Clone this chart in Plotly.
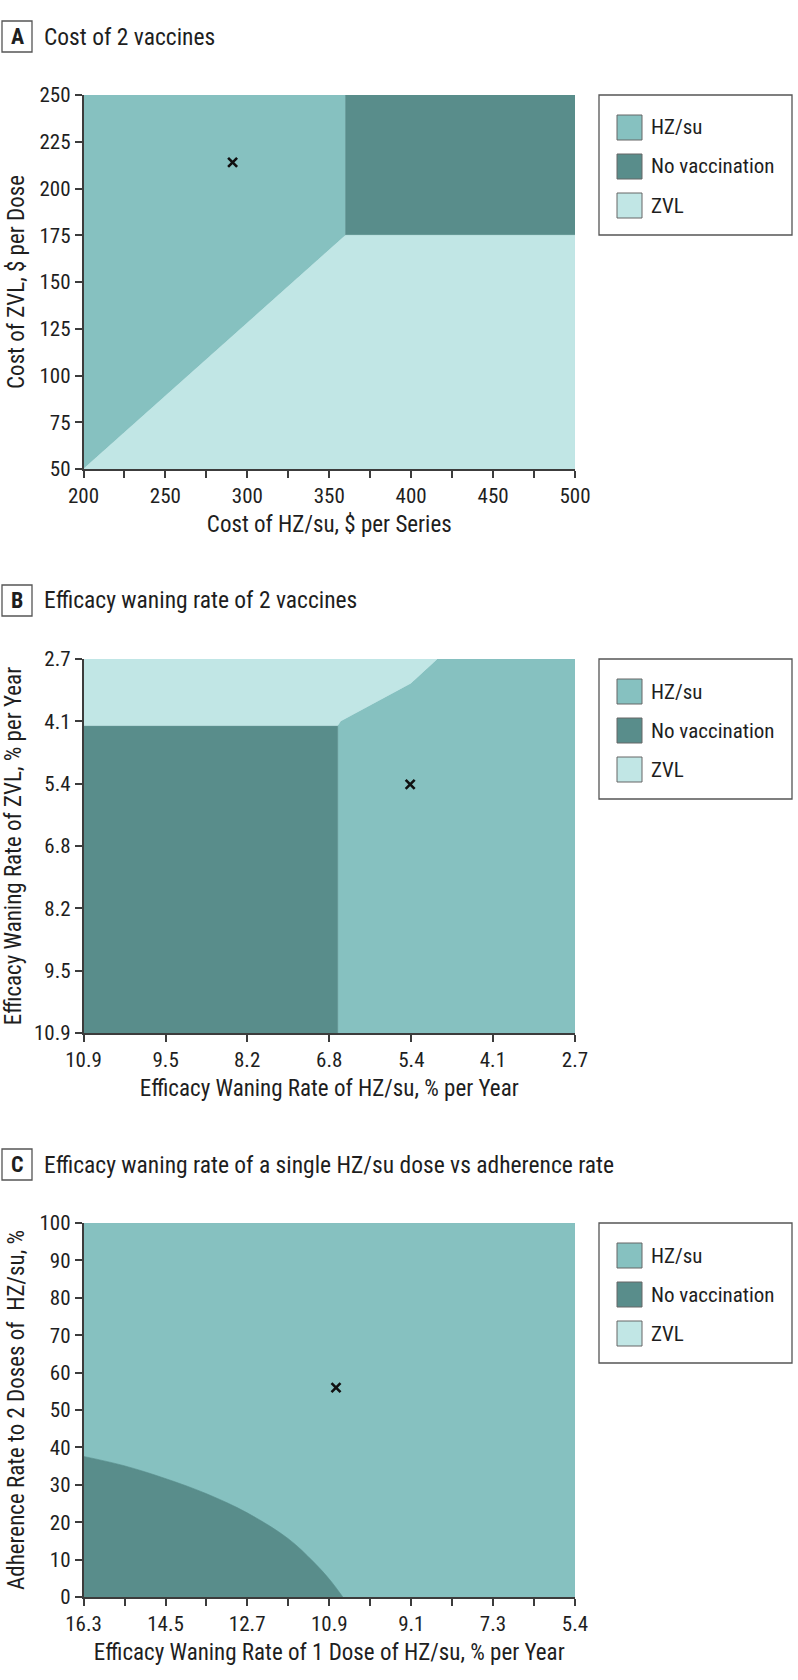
import plotly.graph_objects as go

W, H = 798, 1680
FONT = "Roboto Condensed, Liberation Sans Narrow, DejaVu Sans Condensed, sans-serif"
TXT = "#1e1e1e"
AX = "#3c3c3c"

# ---------------- data ----------------
categories = ["HZ/su", "No vaccination", "ZVL"]
cat_colors = ["#86c1c0", "#598d8b", "#c1e6e5"]

# Panel A: cost of 2 vaccines
a_title = "Cost of 2 vaccines"
a_xlabel = "Cost of HZ/su, $ per Series"
a_ylabel = "Cost of ZVL, $ per Dose"
a_hz_x = [200, 360, 360, 200]
a_hz_y = [50, 175, 250, 250]
a_nv_x = [360, 500, 500, 360]
a_nv_y = [175, 175, 250, 250]
a_zvl_x = [200, 500, 500, 360]
a_zvl_y = [50, 50, 175, 175]
a_base_x = [291]
a_base_y = [214]
a_xtickvals = [200, 225, 250, 275, 300, 325, 350, 375, 400, 425, 450, 475, 500]
a_xticktext = ["200", "", "250", "", "300", "", "350", "", "400", "", "450", "", "500"]
a_ytickvals = [50, 75, 100, 125, 150, 175, 200, 225, 250]
a_yticktext = ["50", "75", "100", "125", "150", "175", "200", "225", "250"]

# Panel B: efficacy waning rate of 2 vaccines
b_title = "Efficacy waning rate of 2 vaccines"
b_xlabel = "Efficacy Waning Rate of HZ/su, % per Year"
b_ylabel = "Efficacy Waning Rate of ZVL, % per Year"
b_hz_x = [5.0, 2.7, 2.7, 6.66, 6.66, 6.61, 5.44]
b_hz_y = [2.7, 2.7, 10.9, 10.9, 4.16, 4.06, 3.23]
b_nv_x = [10.9, 6.66, 6.66, 10.9]
b_nv_y = [4.16, 4.16, 10.9, 10.9]
b_zvl_x = [10.9, 5.0, 5.44, 6.61, 6.66, 10.9]
b_zvl_y = [2.7, 2.7, 3.23, 4.06, 4.16, 4.16]
b_base_x = [5.45]
b_base_y = [5.45]
b_tickvals = [10.9, 9.53, 8.17, 6.8, 5.43, 4.07, 2.7]
b_ticktext = ["10.9", "9.5", "8.2", "6.8", "5.4", "4.1", "2.7"]

# Panel C: single-dose waning vs adherence
c_title = "Efficacy waning rate of a single HZ/su dose vs adherence rate"
c_xlabel = "Efficacy Waning Rate of 1 Dose of HZ/su, % per Year"
c_ylabel = "Adherence Rate to 2 Doses of  HZ/su, %"
c_curve_x = [16.3, 15.40, 14.49, 13.57, 12.67, 11.76, 11.20, 10.83, 10.55]
c_curve_y = [37.6, 35.1, 31.7, 27.6, 22.5, 15.6, 9.4, 4.5, 0.0]
c_xmin, c_xmax = 5.4, 16.3
c_ymin, c_ymax = 0, 100
c_base_x = [10.7]
c_base_y = [56]
c_xtickvals = [16.3, 15.39, 14.48, 13.58, 12.67, 11.76, 10.85, 9.94, 9.03, 8.13, 7.22, 6.31, 5.4]
c_xticktext = ["16.3", "", "14.5", "", "12.7", "", "10.9", "", "9.1", "", "7.3", "", "5.4"]
c_ytickvals = [0, 10, 20, 30, 40, 50, 60, 70, 80, 90, 100]
c_yticktext = ["0", "10", "20", "30", "40", "50", "60", "70", "80", "90", "100"]

# ---------------- layout helpers ----------------
def px(x):
    return x / W

def py(y):
    return 1 - y / H

PLOT_L, PLOT_R = 83.5, 575
panel_tops = [95, 659, 1223]
PLOT_H = 374

fig = go.Figure()

def region(xs, ys, color, xa, ya, name):
    fig.add_trace(go.Scatter(
        x=xs + [xs[0]], y=ys + [ys[0]], fill="toself", fillcolor=color,
        mode="lines", line=dict(color=color, width=0.6), name=name,
        showlegend=False, hoverinfo="name", xaxis=xa, yaxis=ya))

def base(xs, ys, xa, ya):
    fig.add_trace(go.Scatter(
        x=xs, y=ys, mode="markers", showlegend=False, xaxis=xa, yaxis=ya,
        marker=dict(symbol="x-thin", size=9, color="#111",
                    line=dict(color="#111", width=2.6)),
        hoverinfo="skip"))

# Panel A
region(a_hz_x, a_hz_y, cat_colors[0], "x", "y", categories[0])
region(a_nv_x, a_nv_y, cat_colors[1], "x", "y", categories[1])
region(a_zvl_x, a_zvl_y, cat_colors[2], "x", "y", categories[2])
base(a_base_x, a_base_y, "x", "y")

# Panel B
region(b_hz_x, b_hz_y, cat_colors[0], "x2", "y2", categories[0])
region(b_nv_x, b_nv_y, cat_colors[1], "x2", "y2", categories[1])
region(b_zvl_x, b_zvl_y, cat_colors[2], "x2", "y2", categories[2])
base(b_base_x, b_base_y, "x2", "y2")

# Panel C: HZ/su fills the whole domain, No vaccination sits below the curve
region([c_xmax, c_xmin, c_xmin, c_xmax], [c_ymin, c_ymin, c_ymax, c_ymax],
       cat_colors[0], "x3", "y3", categories[0])
fig.add_trace(go.Scatter(
    x=c_curve_x, y=c_curve_y, fill="tozeroy", fillcolor=cat_colors[1],
    mode="lines", line=dict(color=cat_colors[1], width=0.6, shape="spline", smoothing=1),
    name=categories[1], showlegend=False, hoverinfo="name", xaxis="x3", yaxis="y3"))
base(c_base_x, c_base_y, "x3", "y3")

def axis_common(rng, tv, tt, title, anchor, standoff):
    return dict(range=rng, anchor=anchor, automargin=False,
                tickmode="array", tickvals=tv, ticktext=tt,
                showline=True, linecolor=AX, linewidth=1.5, ticks="outside",
                ticklen=7, tickwidth=1.5, tickcolor=AX, showgrid=False,
                zeroline=False, tickfont=dict(family=FONT, size=21, color=TXT),
                title=dict(text=title, font=dict(family=FONT, size=23, color=TXT),
                           standoff=standoff),
                fixedrange=True)

def xaxis(top, rng, tv, tt, title, anchor):
    d = axis_common(rng, tv, tt, title, anchor, 9)
    d["domain"] = [px(PLOT_L), px(PLOT_R)]
    return d

def yaxis(top, rng, tv, tt, title, anchor):
    d = axis_common(rng, tv, tt, title, anchor, 8)
    d["domain"] = [py(top + PLOT_H), py(top)]
    return d

fig.update_layout(
    xaxis=xaxis(panel_tops[0], [200, 500], a_xtickvals, a_xticktext, a_xlabel, "y"),
    yaxis=yaxis(panel_tops[0], [50, 250], a_ytickvals, a_yticktext, a_ylabel, "x"),
    xaxis2=xaxis(panel_tops[1], [10.9, 2.7], b_tickvals, b_ticktext, b_xlabel, "y2"),
    yaxis2=yaxis(panel_tops[1], [10.9, 2.7], b_tickvals, b_ticktext, b_ylabel, "x2"),
    xaxis3=xaxis(panel_tops[2], [c_xmax, c_xmin], c_xtickvals, c_xticktext, c_xlabel, "y3"),
    yaxis3=yaxis(panel_tops[2], [c_ymin, c_ymax], c_ytickvals, c_yticktext, c_ylabel, "x3"),
)

shapes = []
annotations = []
letters = ["A", "B", "C"]
titles = [a_title, b_title, c_title]
for i, top in enumerate(panel_tops):
    # panel letter box + title
    hc = top - 58.5
    shapes.append(dict(type="rect", xref="paper", yref="paper",
                       x0=px(2), x1=px(32), y0=py(hc + 15.5), y1=py(hc - 15.5),
                       line=dict(color="#555", width=1.3), fillcolor="white"))
    annotations.append(dict(text="<b>%s</b>" % letters[i], xref="paper", yref="paper",
                            x=px(17), y=py(hc), xanchor="center", yanchor="middle",
                            showarrow=False, font=dict(family=FONT, size=22, color=TXT)))
    annotations.append(dict(text=titles[i], xref="paper", yref="paper",
                            x=px(42), y=py(hc), xanchor="left", yanchor="middle",
                            showarrow=False, font=dict(family=FONT, size=23.5, color=TXT)))
    # legend box
    shapes.append(dict(type="rect", xref="paper", yref="paper",
                       x0=px(599), x1=px(792), y0=py(top + 140), y1=py(top),
                       line=dict(color="#555", width=1.3), fillcolor="white"))
    for j, (cat, col) in enumerate(zip(categories, cat_colors)):
        s_top = top + 20 + 39 * j
        shapes.append(dict(type="rect", xref="paper", yref="paper",
                           x0=px(617), x1=px(642), y0=py(s_top + 25), y1=py(s_top),
                           line=dict(color="#666", width=1), fillcolor=col))
        annotations.append(dict(text=cat, xref="paper", yref="paper",
                                x=px(649), y=py(s_top + 12.5), xanchor="left",
                                yanchor="middle", showarrow=False,
                                font=dict(family=FONT, size=21, color=TXT)))

fig.update_layout(
    width=W, height=H, margin=dict(l=0, r=0, t=0, b=0),
    paper_bgcolor="white", plot_bgcolor="white",
    shapes=shapes, annotations=annotations, showlegend=False,
    font=dict(family=FONT, color=TXT),
)

fig.write_html("out.html", config={"displayModeBar": False},
               post_script="document.body.style.margin='0px';document.body.style.padding='0px';")
